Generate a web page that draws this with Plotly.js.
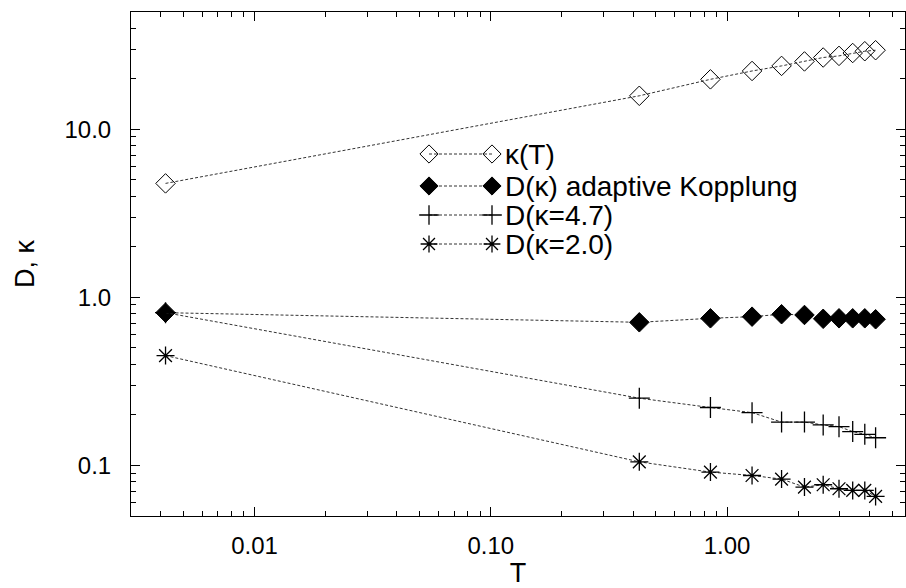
<!DOCTYPE html>
<html>
<head>
<meta charset="utf-8">
<script src="https://cdn.plot.ly/plotly-3.0.1.min.js"></script>
<style>html,body{margin:0;padding:0;background:#fff;}#chart{width:906px;height:588px;}</style>
</head>
<body>
<div id="chart"></div>
<script>
// ---- data ----
const T = [0.0042, 0.425, 0.85, 1.275, 1.7, 2.125, 2.55, 2.975, 3.4, 3.825, 4.25];
const kappaT = [4.76, 15.8, 19.8, 22.2, 23.8, 25.3, 26.7, 27.3, 28.4, 29.1, 29.5];
const D_adaptive = [0.81, 0.71, 0.75, 0.767, 0.793, 0.785, 0.745, 0.75, 0.75, 0.75, 0.74];
const D_k47 = [0.81, 0.251, 0.221, 0.206, 0.181, 0.181, 0.174, 0.170, 0.159, 0.153, 0.146];
const D_k20 = [0.45, 0.105, 0.0912, 0.0871, 0.0829, 0.0743, 0.0767, 0.0726, 0.0710, 0.0710, 0.0654];

const seriesNames = ["κ(T)", "D(κ) adaptive Kopplung", "D(κ=4.7)", "D(κ=2.0)"];
const xTickVals = [0.01, 0.1, 1];
const xTickText = ["0.01", "0.10", "1.00"];
const yTickVals = [0.1, 1, 10];
const yTickText = ["0.1", "1.0", "10.0"];
const xMinor = [0.003,0.004,0.005,0.006,0.007,0.008,0.009,0.02,0.03,0.04,0.05,0.06,0.07,0.08,0.09,0.2,0.3,0.4,0.5,0.6,0.7,0.8,0.9,2,3,4,5];
const yMinor = [0.06,0.07,0.08,0.09,0.2,0.3,0.4,0.5,0.6,0.7,0.8,0.9,2,3,4,5,6,7,8,9,20,30,40];

// ---- styles ----
const FONT = "Liberation Sans, Arial, sans-serif";
const lineStyle = {color: "#333", width: 1, dash: "3px,2px"};
const markers = [
  {symbol: "diamond-open", size: 15, color: "#000", line: {color: "#000", width: 1}},
  {symbol: "diamond", size: 15, color: "#000", line: {color: "#000", width: 1}},
  {symbol: "cross-thin-open", size: 15, color: "#000", line: {color: "#000", width: 1.3}},
  {symbol: "asterisk-open", size: 15, color: "#000", line: {color: "#000", width: 1.3}}
];
const ys = [kappaT, D_adaptive, D_k47, D_k20];

const traces = ys.map((y, i) => ({
  x: T, y: y, type: "scatter", mode: "lines+markers",
  line: lineStyle, marker: markers[i], showlegend: false, cliponaxis: false
}));

// custom legend (marker ... marker  label), drawn on a pixel-space overlay axis
const legX0 = 429, legX1 = 492, legTextX = 504;
const legY = [154, 186, 215, 244];
const annotations = [];
ys.forEach((y, i) => {
  traces.push({
    x: [legX0, legX1], y: [legY[i], legY[i]], xaxis: "x2", yaxis: "y2",
    type: "scatter", mode: "lines+markers", line: lineStyle,
    marker: Object.assign({}, markers[i], {size: markers[i].size - 1}),
    showlegend: false, hoverinfo: "skip"
  });
  annotations.push({
    x: legTextX, y: legY[i], xref: "x2", yref: "y2", xanchor: "left", yanchor: "middle",
    text: seriesNames[i], showarrow: false, borderpad: 0,
    font: {family: FONT, size: 28, color: "#000"}
  });
});

const axisCommon = {
  type: "log", showgrid: false, zeroline: false, showline: true, linecolor: "#000", linewidth: 1,
  mirror: "ticks", ticks: "inside", ticklen: 9, tickwidth: 1, tickcolor: "#000",
  tickmode: "array", tickfont: {family: FONT, size: 24, color: "#000"}
};

const layout = {
  width: 906, height: 588,
  margin: {l: 131, r: 1, t: 12, b: 72},
  paper_bgcolor: "#fff", plot_bgcolor: "#fff",
  font: {family: FONT, color: "#000"},
  xaxis: Object.assign({}, axisCommon, {
    range: [Math.log10(0.003), Math.log10(5.66)],
    tickvals: xTickVals, ticktext: xTickText,
    minor: {tickvals: xMinor, ticks: "inside", ticklen: 5, tickcolor: "#000", showgrid: false},
    ticklabelstandoff: 8,
    title: {text: "T", font: {family: FONT, size: 27}, standoff: 6}
  }),
  yaxis: Object.assign({}, axisCommon, {
    range: [Math.log10(0.05), Math.log10(49.8)],
    tickvals: yTickVals, ticktext: yTickText,
    minor: {tickvals: yMinor, ticks: "inside", ticklen: 5, tickcolor: "#000", showgrid: false},
    ticklabelstandoff: 14,
    title: {text: "D, κ", font: {family: FONT, size: 27}, standoff: 22}
  }),
  xaxis2: {overlaying: "x", range: [131, 905], visible: false, fixedrange: true},
  yaxis2: {overlaying: "y", range: [516, 12], visible: false, fixedrange: true},
  annotations: annotations,
  showlegend: false
};

Plotly.newPlot("chart", traces, layout, {displayModeBar: false, staticPlot: true});
</script>
</body>
</html>
